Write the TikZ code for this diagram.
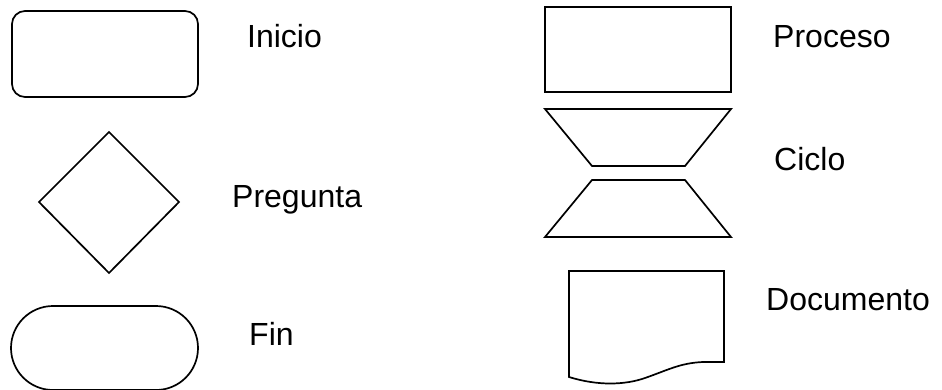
\documentclass[tikz,border=0pt]{standalone}
\usepackage{fontspec}
\setmainfont{Liberation Sans}
\begin{document}
\begin{tikzpicture}[x=1pt,y=-1pt,
  shapeline/.style={draw=black,line width=1.7pt,line join=miter},
  label/.style={anchor=base west,inner sep=0pt,font=\fontsize{32}{38}\selectfont}]
\useasboundingbox (0,0) rectangle (942,389);
\clip (0,0) rectangle (942,389);

% left column: terminal start, decision, terminal end
\draw[shapeline,rounded corners=13pt] (12,11) rectangle (198,97);
\draw[shapeline] (109,132) -- (179,202) -- (109,273) -- (39,202) -- cycle;
\draw[shapeline,rounded corners=42pt] (11,306) rectangle (198,390);

\node[label] (inicio) at (247,47) {Inicio};
\node[label] (pregunta) at (232,207) {Pregunta};
\node[label] (fin) at (249,345) {Fin};

% right column: process, loop, document
\draw[shapeline] (545,7) rectangle (731,92);
\draw[shapeline] (545,109) -- (731,109) -- (685,166) -- (592,166) -- cycle;
\draw[shapeline] (592,180) -- (685,180) -- (731,237) -- (545,237) -- cycle;
\draw[shapeline] (569,271) -- (724,271) -- (724,362) -- (703,362)
  .. controls (680,363) and (668,370) .. (645,378)
  .. controls (625,385) and (598,386) .. (569,377) -- cycle;

\node[label] (proceso) at (773,47) {Proceso};
\node[label] (ciclo) at (774,170) {Ciclo};
\node[label] (documento) at (766,310) {Documento};
\end{tikzpicture}
\end{document}
